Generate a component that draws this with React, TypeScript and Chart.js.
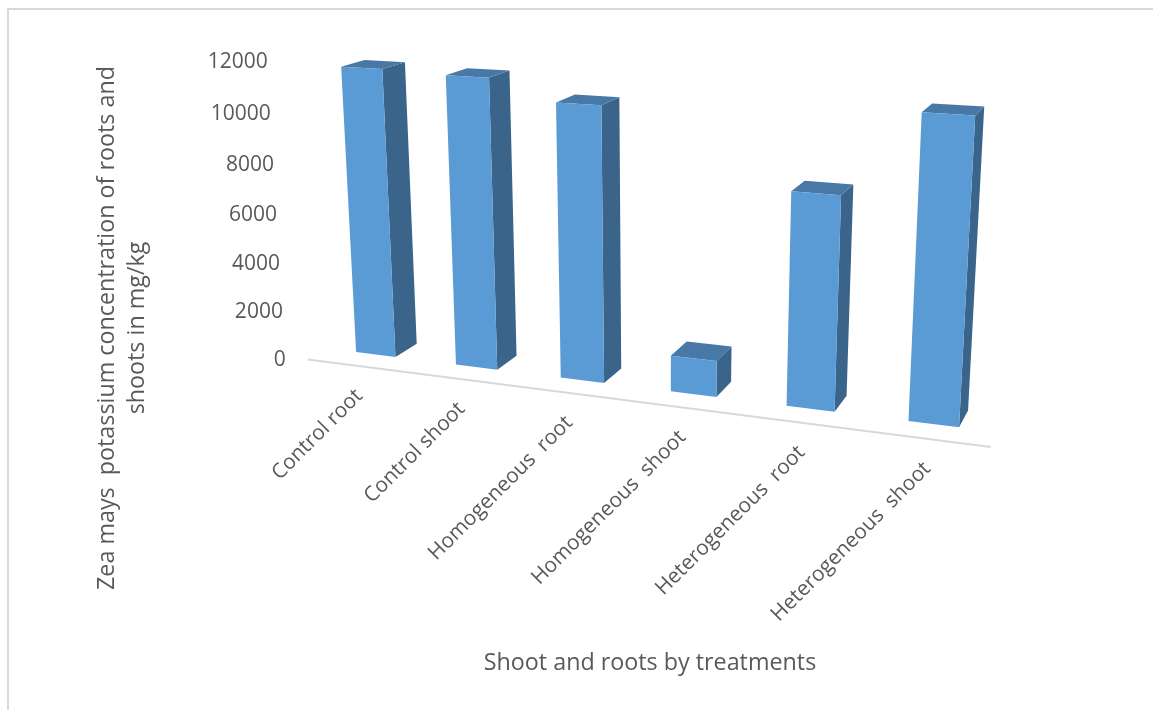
import { useEffect, useRef } from "react";
import { Chart, registerables } from "chart.js";

Chart.register(...registerables);

const categories = [
  "Control root",
  "Control shoot",
  "Homogeneous  root",
  "Homogeneous  shoot",
  "Heterogeneous  root",
  "Heterogeneous  shoot",
];
const potassium = [11650, 11550, 10770, 1420, 8100, 11210];
const yTicksStep = 2000;
const yMax = 12000;

const yTitle = ["Zea mays  potassium concentration of roots and", "shoots in mg/kg"];
const xTitle = "Shoot and roots by treatments";

const FONT = "'Open Sans'";
const TEXT = "#595959";
const FRONT = "#5B9BD5";
const SIDE = "#3A6489";
const TOP = "#4778A6";
const FLOOR = "#D9D9D9";

// Perspective camera: i is the category index, v the value as a fraction of
// the axis, z the depth into the picture.
const CAM = {
  a: 375.7,
  b: 89.6,
  c: -0.02355,
  slope: 0.1248,
  y0: 307.6,
  vertical: [661, 6180],
  depth: [1297, -206],
  k: 0.0483,
};
const BAR_DEPTH = 0.024;
const FLOOR_Z = -0.0197;

function project(i: number, v: number, z: number): [number, number] {
  const base = 1 + CAM.c * i;
  const nx = CAM.a + CAM.b * i;
  const ny = CAM.y0 * base + CAM.slope * nx;
  const kv = -CAM.k * v;
  const w = base + kv + z;
  return [
    (nx + kv * CAM.vertical[0] + z * CAM.depth[0]) / w,
    (ny + kv * CAM.vertical[1] + z * CAM.depth[1]) / w,
  ];
}

function face(ctx: CanvasRenderingContext2D, pts: [number, number][], color: string) {
  ctx.beginPath();
  pts.forEach((p, n) => (n ? ctx.lineTo(p[0], p[1]) : ctx.moveTo(p[0], p[1])));
  ctx.closePath();
  ctx.fillStyle = color;
  ctx.fill();
}

const perspectivePlugin = {
  id: "perspective",
  beforeDraw(chart: any) {
    const { ctx, width, height } = chart;
    ctx.save();
    ctx.fillStyle = "#FFFFFF";
    ctx.fillRect(0, 0, width, height);
    ctx.strokeStyle = FLOOR;
    ctx.lineWidth = 2;
    ctx.beginPath();
    ctx.moveTo(8, height);
    ctx.lineTo(8, 9);
    ctx.lineTo(width, 9);
    ctx.stroke();
    ctx.restore();
  },
  beforeDatasetDraw(chart: any) {
    const { ctx, chartArea, scales } = chart;
    const n = categories.length;
    const toI = (px: number) => ((px - chartArea.left) / chartArea.width) * n - 0.5;
    const toV = (py: number) => (chartArea.bottom - py) / chartArea.height;

    ctx.save();

    // Floor line along the category axis.
    const fa = project(-0.5, 0, FLOOR_Z);
    const fb = project(n - 0.5, 0, FLOOR_Z);
    ctx.strokeStyle = FLOOR;
    ctx.lineWidth = 2;
    ctx.beginPath();
    ctx.moveTo(fa[0], fa[1]);
    ctx.lineTo(fb[0], fb[1]);
    ctx.stroke();

    // Boxes: front, side and top faces of each bar.
    chart.getDatasetMeta(0).data.forEach((bar: any) => {
      const il = toI(bar.x - bar.width / 2);
      const ir = toI(bar.x + bar.width / 2);
      const v = toV(bar.y);
      const d = BAR_DEPTH;
      face(ctx, [project(ir, 0, 0), project(ir, 0, d), project(ir, v, d), project(ir, v, 0)], SIDE);
      face(ctx, [project(il, v, 0), project(ir, v, 0), project(ir, v, d), project(il, v, d)], TOP);
      face(ctx, [project(il, 0, 0), project(ir, 0, 0), project(ir, v, 0), project(il, v, 0)], FRONT);
    });

    // Value labels follow the left end of the floor line upwards.
    ctx.fillStyle = TEXT;
    ctx.font = `21px ${FONT}`;
    ctx.textAlign = "right";
    ctx.textBaseline = "middle";
    scales.y.ticks.forEach((t: any) => {
      const p = project(-0.5, toV(scales.y.getPixelForValue(t.value)), FLOOR_Z);
      ctx.fillText(String(t.value), p[0] - 22, p[1] + 0.7);
    });

    // Category labels hang off the floor line at 45 degrees.
    ctx.font = `20.8px ${FONT}`;
    scales.x.ticks.forEach((t: any, idx: number) => {
      const p = project(toI(scales.x.getPixelForTick(idx)), 0, FLOOR_Z);
      ctx.save();
      ctx.translate(p[0] + 2, p[1] + 27);
      ctx.rotate(-Math.PI / 4);
      ctx.fillText(scales.x.getLabelForValue(t.value), 0, 0);
      ctx.restore();
    });

    ctx.restore();
    return false;
  },
};

export default function App() {
  const ref = useRef<HTMLCanvasElement>(null);

  useEffect(() => {
    const chart = new Chart(ref.current as HTMLCanvasElement, {
      type: "bar",
      data: {
        labels: categories,
        datasets: [
          {
            label: "Potassium concentration",
            data: potassium,
            backgroundColor: FRONT,
            categoryPercentage: 1,
            barPercentage: 0.4,
          },
        ],
      },
      options: {
        responsive: false,
        animation: false,
        layout: { padding: { left: 92, right: 13, top: 16, bottom: 32 } },
        plugins: { legend: { display: false }, tooltip: { enabled: false } },
        scales: {
          x: {
            grid: { display: false },
            border: { display: false },
            ticks: { display: false },
            title: {
              display: true,
              text: xTitle,
              color: TEXT,
              padding: 0,
              font: { family: FONT, size: 23.3, lineHeight: 30 / 23.3 },
            },
          },
          y: {
            min: 0,
            max: yMax,
            grid: { display: false },
            border: { display: false },
            ticks: { display: false, stepSize: yTicksStep },
            title: {
              display: true,
              text: yTitle,
              color: TEXT,
              padding: 0,
              font: { family: FONT, size: 23.3, lineHeight: 30 / 23.3 },
            },
          },
        },
      },
      plugins: [perspectivePlugin],
    });
    return () => chart.destroy();
  }, []);

  return (
    <div style={{ position: "absolute", left: 0, top: 0, width: 1153, height: 710 }}>
      <canvas ref={ref} width={1153} height={710} style={{ display: "block" }} />
    </div>
  );
}
